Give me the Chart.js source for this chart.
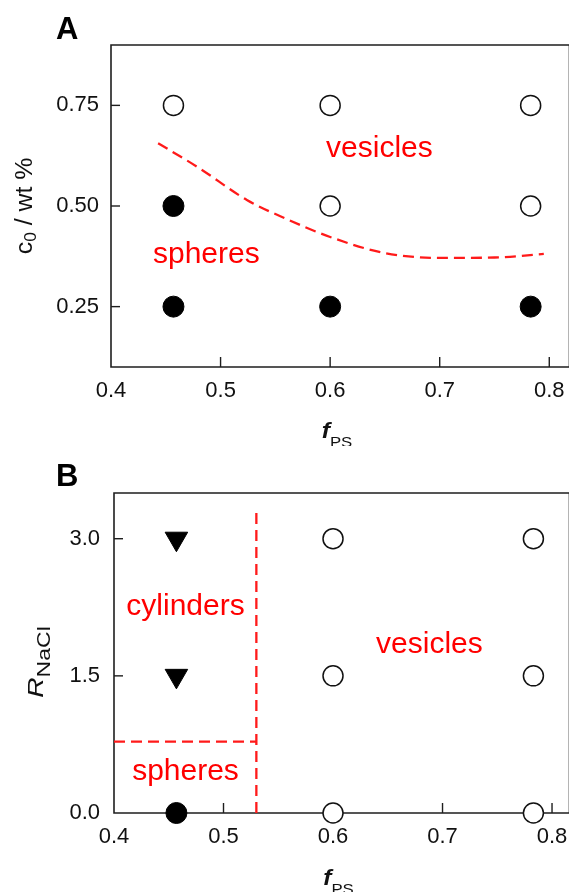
<!DOCTYPE html>
<html><head><meta charset="utf-8">
<script src="https://cdn.jsdelivr.net/npm/chart.js@4/dist/chart.umd.min.js"></script>
<style>
html,body{margin:0;padding:0;background:#fff;}
#wrap{position:relative;width:570px;height:892px;overflow:hidden;background:#fff}
canvas{position:absolute;left:0}
</style>
</head><body>
<div id="wrap">
<canvas id="cA" width="570" height="446" style="top:0"></canvas>
<canvas id="cB" width="570" height="446" style="top:446px"></canvas>
</div>
<script>
// ---------- data ----------
const xTicks = [0.4, 0.5, 0.6, 0.7, 0.8];
const aYTicks = [0.25, 0.50, 0.75];
const bYTicks = [0.0, 1.5, 3.0];

// Panel A : c0 (wt %) vs fPS
const aVesiclesX = [0.457, 0.600, 0.783, 0.600, 0.783];
const aVesiclesY = [0.75, 0.75, 0.75, 0.50, 0.50];
const aSpheresX  = [0.457, 0.457, 0.600, 0.783];
const aSpheresY  = [0.50, 0.25, 0.25, 0.25];
const aBoundaryX = [0.443, 0.480, 0.524, 0.560, 0.600, 0.650, 0.700, 0.750, 0.795];
const aBoundaryY = [0.656, 0.595, 0.515, 0.468, 0.423, 0.383, 0.371, 0.372, 0.381];

// Panel B : R_NaCl vs fPS
const bVesiclesX  = [0.600, 0.783, 0.600, 0.783, 0.600, 0.783];
const bVesiclesY  = [3.0, 3.0, 1.5, 1.5, 0.0, 0.0];
const bCylindersX = [0.457, 0.457];
const bCylindersY = [3.0, 1.5];
const bSpheresX   = [0.457];
const bSpheresY   = [0.0];
const bBoundVX = [0.530, 0.530];
const bBoundVY = [0.0, 3.28];
const bBoundHX = [0.400, 0.530];
const bBoundHY = [0.78, 0.78];

// ---------- helpers ----------
const FAM = '"Liberation Sans", Arial, Helvetica, sans-serif';
const zip = (xs, ys) => xs.map((x, i) => ({x, y: ys[i]}));

function drawRich(ctx, parts, cx, baseY, sx) {
  let total = 0;
  parts.forEach(p => { ctx.font = p.font; p.w = ctx.measureText(p.t).width; total += p.w; });
  ctx.save();
  ctx.translate(cx, baseY);
  ctx.scale(sx || 1, 1);
  let x = -total / 2;
  ctx.textAlign = 'left';
  ctx.textBaseline = 'alphabetic';
  parts.forEach(p => { ctx.font = p.font; ctx.fillText(p.t, x, p.dy || 0); x += p.w; });
  ctx.restore();
}

const framePlugin = {
  id: 'frame',
  beforeDatasetsDraw(chart) {
    const {ctx, chartArea: a, scales: {x, y}} = chart;
    ctx.save();
    ctx.strokeStyle = '#b4b4b4'; ctx.lineWidth = 1;
    ctx.beginPath(); ctx.moveTo(a.right - 0.5, a.top); ctx.lineTo(a.right - 0.5, a.bottom); ctx.stroke();
    ctx.strokeStyle = '#1e1e1e'; ctx.lineWidth = 1.6;
    ctx.beginPath();
    ctx.moveTo(a.right, a.top); ctx.lineTo(a.left, a.top); ctx.lineTo(a.left, a.bottom); ctx.lineTo(a.right, a.bottom);
    ctx.stroke();
    ctx.lineWidth = 1.4;
    x.ticks.forEach(t => {
      const px = x.getPixelForValue(t.value);
      if (px <= a.left + 1 || px >= a.right - 1) return;
      ctx.beginPath(); ctx.moveTo(px, a.bottom); ctx.lineTo(px, a.bottom - 10); ctx.stroke();
    });
    y.ticks.forEach(t => {
      const py = y.getPixelForValue(t.value);
      if (py >= a.bottom - 1 || py <= a.top + 1) return;
      ctx.beginPath(); ctx.moveTo(a.left, py); ctx.lineTo(a.left + 9, py); ctx.stroke();
    });
    ctx.restore();
  },
  afterDraw(chart, args, opts) {
    const {ctx, chartArea: a, scales: {x, y}} = chart;
    ctx.save();
    // region labels
    ctx.fillStyle = '#ff0000';
    ctx.font = '30px ' + FAM;
    ctx.textAlign = 'center'; ctx.textBaseline = 'alphabetic';
    (opts.notes || []).forEach(n => ctx.fillText(n.text, x.getPixelForValue(n.x), y.getPixelForValue(n.y)));
    // panel letter
    ctx.fillStyle = '#000';
    ctx.font = 'bold 31px ' + FAM;
    ctx.textAlign = 'left';
    ctx.fillText(opts.letter, 56, opts.letterBase);
    // x title
    ctx.fillStyle = '#111';
    drawRich(ctx, [
      {t: 'f', font: 'italic bold 22px ' + FAM},
      {t: 'PS', font: '15px ' + FAM, dy: 9}
    ], (a.left + a.right) / 2 - 3, opts.xTitleBase, 1.12);
    // y title
    ctx.save();
    ctx.translate(opts.yTitleX, opts.yTitleY);
    ctx.rotate(-Math.PI / 2);
    drawRich(ctx, opts.yParts, 0, 0, opts.ySx);
    ctx.restore();
    ctx.restore();
  }
};

function makeOpts(cfg) {
  return {
    responsive: false, animation: false, devicePixelRatio: 1, events: [],
    layout: {autoPadding: false, padding: {top: cfg.top, right: 1, left: 0, bottom: 0}},
    plugins: {legend: {display: false}, tooltip: {enabled: false}, frame: cfg.frame},
    scales: {
      x: {
        type: 'linear', min: 0.4, max: cfg.xMax,
        afterBuildTicks: s => { s.ticks = xTicks.map(v => ({value: v})); },
        afterFit: s => { s.height = 79; s.paddingLeft = 0; s.paddingRight = 0; },
        grid: {display: false, drawTicks: false}, border: {display: false},
        ticks: {padding: 11, color: '#111', font: {family: FAM, size: 22}, maxRotation: 0, callback: v => Number(v).toFixed(1)}
      },
      y: {
        type: 'linear', min: cfg.yMin, max: cfg.yMax,
        afterBuildTicks: s => { s.ticks = cfg.yTicks.map(v => ({value: v})); },
        afterFit: s => { s.width = cfg.yWidth; s.paddingTop = 0; s.paddingBottom = 0; },
        grid: {display: false, drawTicks: false}, border: {display: false},
        ticks: {padding: cfg.yPad, color: '#111', font: {family: FAM, size: 22}, callback: v => Number(v).toFixed(cfg.dec)}
      }
    }
  };
}

const openPt = {pointStyle: 'circle', pointRadius: 10, pointBorderWidth: 1.5, pointBackgroundColor: '#fff', pointBorderColor: '#111', showLine: false, clip: false};
const fillPt = {pointStyle: 'circle', pointRadius: 10.5, pointBorderWidth: 1, pointBackgroundColor: '#000', pointBorderColor: '#000', showLine: false, clip: false};
const dash = {showLine: true, borderColor: '#ff1a1a', borderWidth: 2.3, borderDash: [11, 6], pointRadius: 0, fill: false, clip: false};

new Chart(document.getElementById('cA'), {
  type: 'scatter',
  data: {datasets: [
    Object.assign({data: zip(aVesiclesX, aVesiclesY)}, openPt),
    Object.assign({data: zip(aSpheresX, aSpheresY)}, fillPt),
    Object.assign({data: zip(aBoundaryX, aBoundaryY), tension: 0.4, cubicInterpolationMode: 'monotone'}, dash)
  ]},
  options: makeOpts({
    top: 45, xMax: 0.818, yMin: 0.1, yMax: 0.9, yTicks: aYTicks, yWidth: 111, yPad: 12, dec: 2,
    frame: {
      letter: 'A', letterBase: 39, xTitleBase: 438, yTitleX: 32, yTitleY: 206, ySx: 1.08,
      yParts: [
        {t: 'c', font: '23px ' + FAM},
        {t: '0', font: '16px ' + FAM, dy: 4},
        {t: ' / wt %', font: '23px ' + FAM}
      ],
      notes: [
        {text: 'vesicles', x: 0.645, y: 0.621},
        {text: 'spheres', x: 0.487, y: 0.359}
      ]
    }
  }),
  plugins: [framePlugin]
});

new Chart(document.getElementById('cB'), {
  type: 'scatter',
  data: {datasets: [
    Object.assign({data: zip(bVesiclesX, bVesiclesY)}, openPt),
    Object.assign({data: zip(bSpheresX, bSpheresY)}, fillPt),
    Object.assign({data: zip(bCylindersX, bCylindersY)}, fillPt, {pointStyle: 'triangle', pointRotation: 180, pointRadius: 13}),
    Object.assign({data: zip(bBoundVX, bBoundVY)}, dash),
    Object.assign({data: zip(bBoundHX, bBoundHY)}, dash)
  ]},
  options: makeOpts({
    top: 47, xMax: 0.8155, yMin: 0, yMax: 3.5, yTicks: bYTicks, yWidth: 114, yPad: 14, dec: 1,
    frame: {
      letter: 'B', letterBase: 40, xTitleBase: 439, yTitleX: 43, yTitleY: 216, ySx: 1.28,
      yParts: [
        {t: 'R', font: 'italic 22px ' + FAM},
        {t: 'NaCl', font: '18px ' + FAM, dy: 7}
      ],
      notes: [
        {text: 'cylinders', x: 0.4653, y: 2.168},
        {text: 'vesicles', x: 0.688, y: 1.752},
        {text: 'spheres', x: 0.4653, y: 0.361}
      ]
    }
  }),
  plugins: [framePlugin]
});
</script>
</body></html>
